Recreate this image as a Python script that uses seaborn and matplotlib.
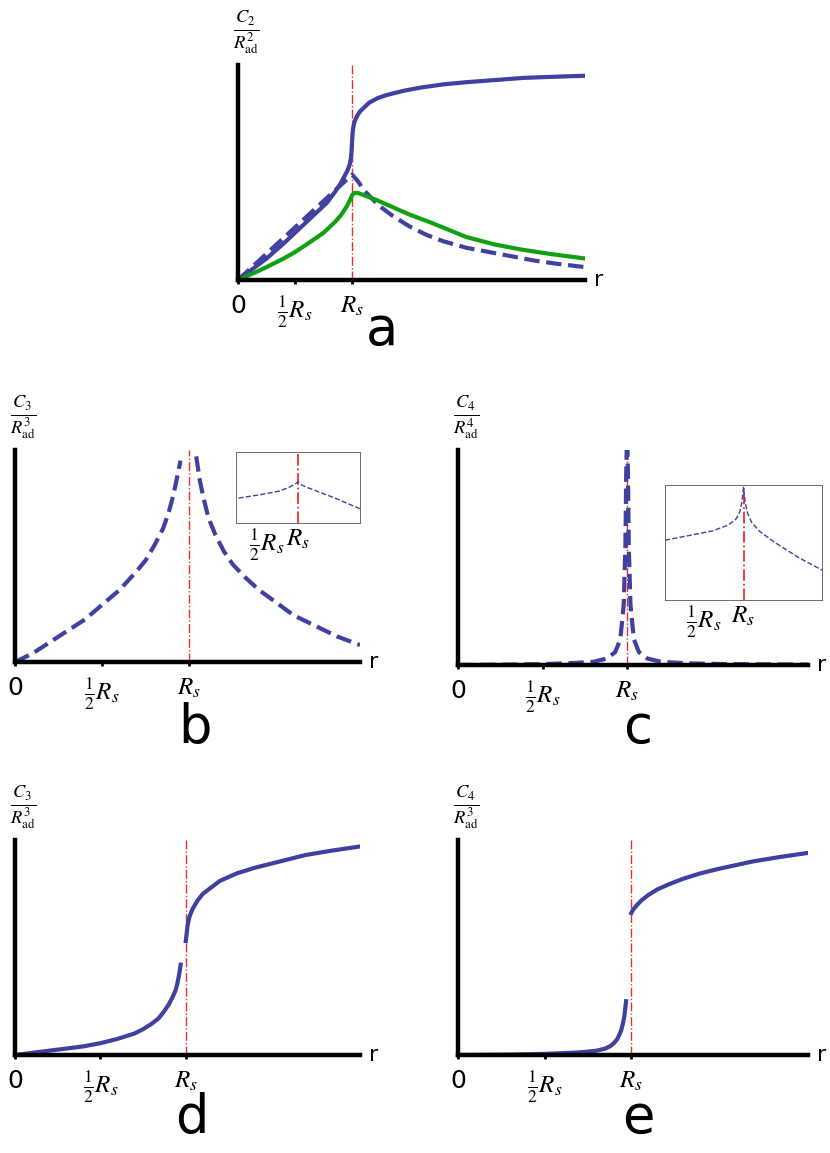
import matplotlib
matplotlib.use("Agg")
import matplotlib.pyplot as plt
import seaborn as sns
import pandas as pd

BLUE = "#4040a0"; GREEN = "#11a011"; RED = "#e83030"
plt.rcParams["mathtext.fontset"] = "stix"

# ---- data (r in units of R_s, y normalised to axis height) ----
a_blue_r = [0, 0.1, 0.25, 0.4, 0.5, 0.6, 0.7, 0.78, 0.85, 0.9, 0.93, 0.96, 0.98, 0.99, 0.995, 1.0, 1.005, 1.01, 1.02, 1.04, 1.07, 1.1, 1.15, 1.22, 1.3, 1.45, 1.6, 1.8, 2.0, 2.25, 2.5, 2.75, 3.04]
a_blue_y = [0, 0.04, 0.1, 0.17, 0.22, 0.27, 0.32, 0.36, 0.41, 0.45, 0.48, 0.51, 0.54, 0.57, 0.6, 0.65, 0.69, 0.71, 0.735, 0.76, 0.785, 0.8, 0.825, 0.845, 0.86, 0.88, 0.895, 0.91, 0.92, 0.93, 0.94, 0.945, 0.95]
a_dash_r = [0, 0.5, 1.0, 1.05, 1.1, 1.18, 1.25, 1.35, 1.5, 1.65, 1.8, 2.0, 2.2, 2.4, 2.6, 2.8, 3.04]
a_dash_y = [0, 0.245, 0.49, 0.46, 0.42, 0.375, 0.34, 0.3, 0.25, 0.21, 0.18, 0.15, 0.13, 0.11, 0.09, 0.075, 0.06]
a_green_r = [0, 0.15, 0.25, 0.4, 0.5, 0.6, 0.75, 0.85, 0.9, 0.95, 0.98, 1.0, 1.02, 1.05, 1.1, 1.2, 1.35, 1.5, 1.7, 2.0, 2.25, 2.5, 2.75, 3.04]
a_green_y = [0, 0.035, 0.06, 0.1, 0.13, 0.165, 0.22, 0.27, 0.3, 0.34, 0.37, 0.395, 0.405, 0.405, 0.395, 0.375, 0.34, 0.305, 0.265, 0.2, 0.165, 0.14, 0.12, 0.1]

b_left_r = [0, 0.1, 0.25, 0.4, 0.5, 0.6, 0.7, 0.75, 0.8, 0.85, 0.88, 0.9, 0.92, 0.95]
b_left_y = [0, 0.04, 0.12, 0.2, 0.27, 0.34, 0.43, 0.48, 0.55, 0.63, 0.7, 0.76, 0.83, 0.95]
b_right_r = [1.04, 1.06, 1.08, 1.11, 1.15, 1.2, 1.25, 1.32, 1.4, 1.5, 1.6, 1.7, 1.85, 1.98]
b_right_y = [0.97, 0.86, 0.78, 0.68, 0.6, 0.52, 0.46, 0.4, 0.34, 0.28, 0.22, 0.18, 0.12, 0.08]
b_in_x = [0.04, 0.4, 0.7, 0.85, 0.95, 1.0, 1.05, 1.15, 1.3, 1.6, 2.0]
b_in_y = [0.35, 0.4, 0.45, 0.5, 0.55, 0.58, 0.54, 0.5, 0.45, 0.35, 0.2]

c_r = [0, 0.3, 0.5, 0.7, 0.8, 0.88, 0.93, 0.96, 0.98, 0.99, 0.995, 1.0, 1.005, 1.01, 1.02, 1.04, 1.07, 1.12, 1.2, 1.35, 1.6, 2.07]
c_y = [0, 0.002, 0.004, 0.01, 0.015, 0.03, 0.06, 0.12, 0.28, 0.55, 0.9, 1.1, 0.9, 0.55, 0.28, 0.12, 0.06, 0.03, 0.015, 0.008, 0.004, 0.002]
c_in_x = [0.0, 0.3, 0.6, 0.8, 0.9, 0.95, 0.98, 1.0, 1.02, 1.05, 1.1, 1.2, 1.4, 1.7, 2.0]
c_in_y = [0.52, 0.56, 0.6, 0.65, 0.7, 0.76, 0.85, 0.98, 0.85, 0.76, 0.68, 0.6, 0.5, 0.37, 0.26]

d_left_r = [0, 0.2, 0.4, 0.5, 0.6, 0.7, 0.75, 0.8, 0.84, 0.87, 0.9, 0.92, 0.94, 0.95, 0.96, 0.97]
d_left_y = [0, 0.02, 0.04, 0.055, 0.075, 0.1, 0.12, 0.145, 0.17, 0.2, 0.235, 0.265, 0.3, 0.33, 0.37, 0.42]
d_right_r = [1.0, 1.01, 1.02, 1.04, 1.07, 1.1, 1.15, 1.2, 1.3, 1.4, 1.5, 1.6, 1.7, 1.85, 2.02]
d_right_y = [0.53, 0.6, 0.64, 0.68, 0.72, 0.75, 0.78, 0.81, 0.845, 0.87, 0.89, 0.91, 0.93, 0.95, 0.97]

e_left_r = [0, 0.3, 0.5, 0.7, 0.8, 0.85, 0.88, 0.9, 0.92, 0.94, 0.95, 0.96, 0.97]
e_left_y = [0, 0.002, 0.005, 0.012, 0.02, 0.03, 0.042, 0.055, 0.075, 0.11, 0.14, 0.18, 0.25]
e_right_r = [1.0, 1.01, 1.03, 1.06, 1.1, 1.15, 1.22, 1.3, 1.4, 1.5, 1.7, 1.85, 2.02]
e_right_y = [0.66, 0.675, 0.695, 0.72, 0.745, 0.77, 0.795, 0.82, 0.845, 0.865, 0.9, 0.92, 0.94]

W, H = 830, 1153
fig = plt.figure(figsize=(W / 100, H / 100), dpi=100)

def ax_px(x0, y0, x1, y1):
    return fig.add_axes([x0 / W, 1 - y1 / H, (x1 - x0) / W, (y1 - y0) / H])

def main_axes(box, xmax, ylab, letter, letter_xy):
    ax = ax_px(*box)
    ax.set_xlim(0, xmax); ax.set_ylim(0, 1)
    for s in ["top", "right"]:
        ax.spines[s].set_visible(False)
    for s in ["left", "bottom"]:
        ax.spines[s].set_linewidth(3.2)
    ax.set_xticks([0, 0.5, 1])
    ax.set_xticklabels(["0", r"$\frac{1}{2}R_s$", r"$R_s$"], fontsize=18)
    ax.tick_params(axis="x", length=3, width=2, pad=7)
    ax.set_yticks([])
    ax.axvline(1, color=RED, lw=1, ls="-.")
    ax.text(1.025, 0.0, "r", transform=ax.transAxes, fontsize=16, va="center")
    ax.text(-0.015, 1.0 + 33 / (box[3] - box[1]), ylab, transform=ax.transAxes,
            fontsize=19, ha="left", va="center")
    fig.text(letter_xy[0] / W, 1 - letter_xy[1] / H, letter, fontsize=38, ha="center", va="center")
    return ax

def line(ax, xs, ys, **kw):
    sns.lineplot(data=pd.DataFrame({"x": xs, "y": ys}), x="x", y="y", ax=ax, **kw)
    ax.set_xlabel(""); ax.set_ylabel("")

def inset(box, xs, ys, xmax):
    ia = ax_px(*box)
    ia.set_xlim(0, xmax); ia.set_ylim(0, 1)
    for s in ia.spines.values():
        s.set_linewidth(0.6); s.set_color("#555555")
    ia.set_xticks([0.5, 1]); ia.set_xticklabels([r"$\frac{1}{2}R_s$", r"$R_s$"], fontsize=18)
    ia.tick_params(length=0, pad=3)
    ia.set_yticks([])
    ia.axvline(1, color=RED, lw=1.3, ls="-.")
    line(ia, xs, ys, color=BLUE, lw=1, linestyle="--")
    ia.set_ylabel("ln(S)", fontsize=14, labelpad=1)

# a
ax = main_axes((238, 65, 585, 280), 3.04, r"$\frac{C_2}{R_{\rm ad}^2}$", "a", (382, 330))
line(ax, a_blue_r, a_blue_y, color=BLUE, lw=3)
line(ax, a_dash_r, a_dash_y, color=BLUE, lw=3, linestyle="--")
line(ax, a_green_r, a_green_y, color=GREEN, lw=3)

# b
ax = main_axes((15, 450, 360, 662), 1.98, r"$\frac{C_3}{R_{\rm ad}^3}$", "b", (195, 728))
line(ax, b_left_r, b_left_y, color=BLUE, lw=3, linestyle="--")
line(ax, b_right_r, b_right_y, color=BLUE, lw=3, linestyle="--")
inset((236, 452, 360, 523), b_in_x, b_in_y, 2.0)

# c
ax = main_axes((458, 450, 808, 665), 2.07, r"$\frac{C_4}{R_{\rm ad}^4}$", "c", (638, 728))
line(ax, c_r, c_y, color=BLUE, lw=3, linestyle="--")
inset((665, 485, 822, 600), c_in_x, c_in_y, 2.0)

# d
ax = main_axes((15, 840, 360, 1055), 2.02, r"$\frac{C_3}{R_{\rm ad}^3}$", "d", (192, 1118))
line(ax, d_left_r, d_left_y, color=BLUE, lw=3)
line(ax, d_right_r, d_right_y, color=BLUE, lw=3)

# e
ax = main_axes((458, 840, 808, 1055), 2.02, r"$\frac{C_4}{R_{\rm ad}^3}$", "e", (638, 1118))
line(ax, e_left_r, e_left_y, color=BLUE, lw=3)
line(ax, e_right_r, e_right_y, color=BLUE, lw=3)

fig.savefig("out.png", dpi=100)
